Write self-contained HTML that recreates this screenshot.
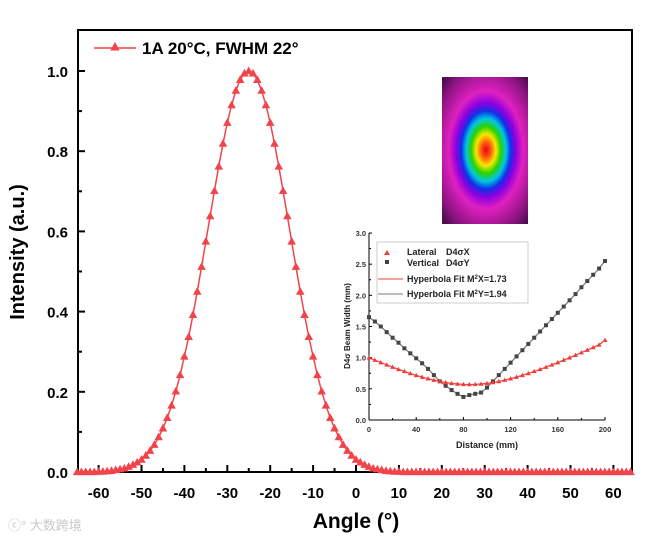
<!DOCTYPE html>
<html><head><meta charset="utf-8"><style>
html,body{margin:0;padding:0;background:#fff;}
svg{display:block;font-family:"Liberation Sans",Arial,sans-serif;}
</style></head><body>
<svg id="chart" width="661" height="541" viewBox="0 0 661 541">
<defs>
<radialGradient id="beam" cx="0.5" cy="0.5" r="0.5">
<stop offset="0" stop-color="#e8001a"/>
<stop offset="0.08" stop-color="#ff5a10"/>
<stop offset="0.16" stop-color="#f6e800"/>
<stop offset="0.24" stop-color="#2ad200"/>
<stop offset="0.32" stop-color="#00c8e0"/>
<stop offset="0.40" stop-color="#1030e8"/>
<stop offset="0.48" stop-color="#8a00e0"/>
<stop offset="0.60" stop-color="#e020c0"/>
<stop offset="0.85" stop-color="#8a1480"/>
<stop offset="1" stop-color="#4a0a4a"/>
</radialGradient>
<clipPath id="imgclip"><rect x="442" y="77" width="86" height="147"/></clipPath>
</defs>
</svg>
<script>
// main chart data
const angleStart = -65;
const intensity = [0,0,0,0,0,0.001,0.001,0.002,0.003,0.005,0.007,0.009,0.013,0.018,0.024,0.031,0.041,0.053,0.068,0.087,0.109,0.135,0.166,0.201,0.242,0.288,0.337,0.392,0.450,0.512,0.575,0.638,0.701,0.762,0.819,0.871,0.915,0.951,0.978,0.994,1.000,0.994,0.978,0.951,0.915,0.871,0.819,0.762,0.701,0.638,0.575,0.512,0.450,0.392,0.337,0.288,0.242,0.201,0.166,0.135,0.109,0.087,0.068,0.053,0.041,0.031,0.024,0.018,0.013,0.009,0.007,0.005,0.003,0.002,0.001,0.001,0,0,0,0,0,0,0,0,0,0,0,0,0,0,0,0,0,0,0,0,0,0,0,0,0,0,0,0,0,0,0,0,0,0,0,0,0,0,0,0,0,0,0,0,0,0,0,0,0,0,0,0,0,0];
const xTicks = [-60,-50,-40,-30,-20,-10,0,10,20,30,40,50,60];
const yTicks = [0.0,0.2,0.4,0.6,0.8,1.0];
// inset data
const distances = [0,5,10,15,20,25,30,35,40,45,50,55,60,65,70,75,80,85,90,95,100,105,110,115,120,125,130,135,140,145,150,155,160,165,170,175,180,185,190,195,200];
const lateral = [1.0,0.961,0.922,0.885,0.849,0.813,0.780,0.747,0.717,0.689,0.663,0.640,0.619,0.602,0.588,0.578,0.572,0.570,0.572,0.578,0.588,0.602,0.619,0.640,0.663,0.689,0.717,0.747,0.780,0.813,0.849,0.885,0.922,0.961,1.0,1.040,1.081,1.122,1.164,1.206,1.28];
const vertical = [1.65,1.58,1.50,1.41,1.32,1.24,1.15,1.07,0.99,0.91,0.82,0.72,0.62,0.55,0.48,0.42,0.37,0.40,0.42,0.44,0.52,0.62,0.72,0.82,0.92,1.02,1.12,1.22,1.32,1.42,1.52,1.62,1.72,1.82,1.92,2.02,2.13,2.23,2.33,2.43,2.55];
const insetXTicks = [0,40,80,120,160,200];
const insetYTicks = [0.0,0.5,1.0,1.5,2.0,2.5,3.0];

const NS="http://www.w3.org/2000/svg";
const svg=document.getElementById('chart');
function el(tag,attrs,parent){const e=document.createElementNS(NS,tag);for(const k in attrs)e.setAttribute(k,attrs[k]);(parent||svg).appendChild(e);return e;}

// main axes
const X0=78,X1=632,Y0=472,Y1=30;
const xs=v=>356+(v)*4.29;
const ys=v=>472-v*401;

const frame=el('rect',{x:X0,y:Y1,width:X1-X0,height:Y0-Y1,fill:'none',stroke:'#000','stroke-width':2});



// beam image
const img=el('g',{'clip-path':'url(#imgclip)'});


el('rect',{x:442,y:77,width:86,height:147,fill:'#5a0a5a'},img);
el('ellipse',{cx:486,cy:150,rx:62,ry:98,fill:'url(#beam)'},img);

// x ticks
for(let v=-60;v<=60;v+=5){
  const major=v%10===0;
  const t=el('line',{x1:xs(v),x2:xs(v),y1:Y0,y2:Y0-(major?7:4),stroke:'#000','stroke-width':2});
  
  
}
xTicks.forEach(v=>{
  const t=el('text',{x:xs(v),y:498,'text-anchor':'middle','font-size':15,'font-weight':'bold'});
  t.textContent=String(v);
  
  
});
for(let i=0;i<=10;i++){
  const v=i/10;
  const t=el('line',{x1:X0,x2:X0+(i%2===0?7:4),y1:ys(v),y2:ys(v),stroke:'#000','stroke-width':2});
  
  
}
yTicks.forEach(v=>{
  const t=el('text',{x:68,y:ys(v)+6,'text-anchor':'end','font-size':15,'font-weight':'bold'});
  t.textContent=v.toFixed(1);
  
  
});
const xt=el('text',{x:356,y:528,'text-anchor':'middle','font-size':21,'font-weight':'bold'});
xt.textContent='Angle (°)';


const yt=el('text',{x:0,y:0,transform:'translate(24,252) rotate(-90)','text-anchor':'middle','font-size':20,'font-weight':'bold'});
yt.textContent='Intensity (a.u.)';



// inset
const IX0=369,IX1=605,IY0=420,IY1=233;
const ixs=v=>IX0+v/200*(IX1-IX0);
const iys=v=>IY0-v/3*(IY0-IY1);
const inset=el('g',{});


el('line',{x1:IX0,x2:IX0,y1:IY1,y2:IY0,stroke:'#000','stroke-width':1},inset);
el('line',{x1:IX0,x2:IX1,y1:IY0,y2:IY0,stroke:'#000','stroke-width':1},inset);
for(let v=0;v<=200;v+=20){el('line',{x1:ixs(v),x2:ixs(v),y1:IY0,y2:IY0-(v%40===0?3:2),stroke:'#000','stroke-width':1},inset);}
for(let v=0;v<=3;v+=0.25){el('line',{x1:IX0,x2:IX0+(v%0.5===0?3:2),y1:iys(v),y2:iys(v),stroke:'#000','stroke-width':1},inset);}
insetXTicks.forEach(v=>{
  const t=el('text',{x:ixs(v),y:432,'text-anchor':'middle','font-size':7.5,'font-weight':'bold',fill:'#333'},inset);
  t.textContent=String(v);
  
  
});
insetYTicks.forEach(v=>{
  const t=el('text',{x:IX0-3,y:iys(v)+3,'text-anchor':'end','font-size':7.5,'font-weight':'bold',fill:'#333'},inset);
  t.textContent=v.toFixed(1);
  
  
});
const ixt=el('text',{x:487,y:448,'text-anchor':'middle','font-size':9,'font-weight':'bold',fill:'#222'},inset);
ixt.textContent='Distance (mm)';


const iyt=el('text',{x:0,y:0,transform:'translate(350,326) rotate(-90)','text-anchor':'middle','font-size':8,'font-weight':'bold',fill:'#222'},inset);
iyt.textContent='D4σ Beam Width (mm)';



const vfit=el('polyline',{points:distances.map((d,i)=>ixs(d)+','+iys(vertical[i])).join(' '),fill:'none',stroke:'#777','stroke-width':1.2},inset);


const lfit=el('polyline',{points:distances.map((d,i)=>ixs(d)+','+iys(lateral[i])).join(' '),fill:'none',stroke:'#f04040','stroke-width':1.2},inset);


distances.forEach((d,i)=>{
  const s=el('rect',{x:ixs(d)-2,y:iys(vertical[i])-2,width:4,height:4,fill:'#444'},inset);
  
  
});
distances.forEach((d,i)=>{
  const x=ixs(d),y=iys(lateral[i]);
  const m=el('path',{d:`M${x},${y-2.5} L${x+2.5},${y+1.8} L${x-2.5},${y+1.8}Z`,fill:'#f03c3c'},inset);
  
  
});

// inset legend
const il=el('g',{});


inset.appendChild(il);
el('rect',{x:377,y:242,width:151,height:61,fill:'#fff',stroke:'#aaa','stroke-width':0.6},il);
el('path',{d:'M387,250 L390,255 L384,255Z',fill:'#f03c3c'},il);
el('rect',{x:385,y:260,width:4,height:4,fill:'#444'},il);
el('line',{x1:378,x2:403,y1:279,y2:279,stroke:'#f04040','stroke-width':1},il);
el('line',{x1:378,x2:403,y1:294,y2:294,stroke:'#777','stroke-width':1},il);
[['Lateral',255],['Vertical',266]].forEach(([t,y])=>{
  const e=el('text',{x:407,y:y,'font-size':9,'font-weight':'bold',fill:'#222'},il);
  e.textContent=t;
});
[['D4σX',255],['D4σY',266]].forEach(([t,y])=>{
  const e=el('text',{x:446,y:y,'font-size':9,'font-weight':'bold',fill:'#222'},il);
  e.textContent=t;
});
const l3=el('text',{x:407,y:282,'font-size':9,'font-weight':'bold',fill:'#222'},il);
l3.innerHTML='Hyperbola Fit  M<tspan dy="-3" font-size="6">2</tspan><tspan dy="3">X=1.73</tspan>';
const l4=el('text',{x:407,y:297,'font-size':9,'font-weight':'bold',fill:'#222'},il);
l4.innerHTML='Hyperbola Fit  M<tspan dy="-3" font-size="6">2</tspan><tspan dy="3">Y=1.94</tspan>';

// series
const red='#f0444a';
const pts=intensity.map((v,i)=>[xs(angleStart+i),ys(v)]);
const line=el('polyline',{points:pts.map(p=>p.join(',')).join(' '),fill:'none',stroke:red,'stroke-width':1.5});


function tri(x,y,s,parent){return el('path',{d:`M${x},${y-s} L${x+s*0.95},${y+s*0.7} L${x-s*0.95},${y+s*0.7}Z`,fill:red},parent);}
pts.forEach(p=>{
  const m=tri(p[0],p[1],4.5);
  
  
});

// legend
const lg=el('g',{});


el('line',{x1:94,x2:136,y1:48,y2:48,stroke:red,'stroke-width':1.5},lg);
tri(115,47,5,lg);
const lt=el('text',{x:142,y:54,'font-size':17,'font-weight':'bold'},lg);
lt.textContent='1A 20°C, FWHM 22°';

// watermark
const wm=el('text',{x:8,y:530,'font-size':13,fill:'#c8c8c8','font-family':'"Liberation Sans","Noto Sans CJK SC",sans-serif'});
wm.textContent='ⓒ° 大数跨境';


</script>
</body></html>
